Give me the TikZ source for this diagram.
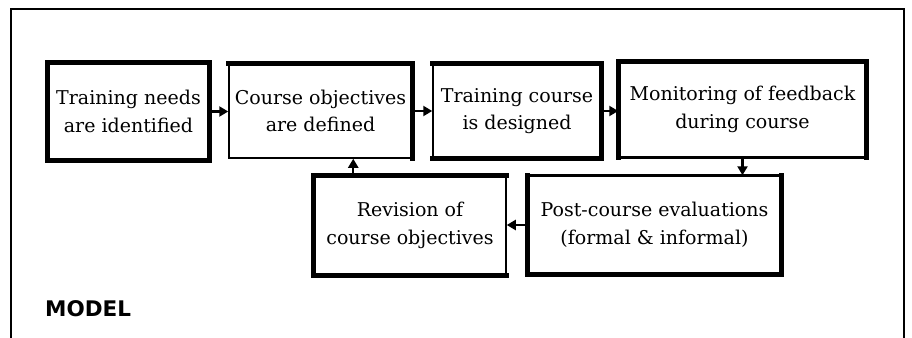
\documentclass[tikz,border=0pt]{standalone}
\usepackage{fontspec}
\setmainfont{DejaVu Serif}
\newfontfamily\modelfont{DejaVu Sans}
\usetikzlibrary{arrows.meta,calc}
\tikzset{
  stagebox/.style={draw, line width=1.5pt, minimum width=#1, inner sep=0pt, align=center,
    font=\fontsize{19}{27.5}\selectfont},
  heavy/.style={line width=5pt, line cap=rect},
  frameline/.style={line width=1.4pt},
  arr/.style={line width=2.4pt, -{Triangle[length=9pt,width=10pt]}}
}
\begin{document}
\begin{tikzpicture}[x=1pt,y=-1pt]
\useasboundingbox (0,0) rectangle (912,337);
% outer frame
\coordinate (fl) at (11,340);
\coordinate (ftl) at (11,9);
\coordinate (ftr) at (904,9);
\coordinate (fr) at (904,340);
\draw[frameline] (fl) -- (ftl) -- (ftr) -- (fr);

% boxes
\node[stagebox=161pt, minimum height=97pt] (b1) at (128.5,111.5) {Training needs\\are identified};
\node[stagebox=183pt, minimum height=94pt] (b2) at (320.5,111) {Course objectives\\are defined};
\node[stagebox=168pt, minimum height=94pt] (b3) at (517,111) {Training course\\is designed};
\node[stagebox=247pt, minimum height=95pt] (b4) at (742.5,109.5) {Monitoring of feedback\\during course};
\node[stagebox=192pt, minimum height=99pt] (b5) at (410,225.5) {Revision of\\course objectives};
\node[stagebox=253pt, minimum height=98pt] (b6) at (654.5,225) {Post-course evaluations\\(formal \& informal)};

% heavy sides
\draw[heavy] (b1.north west) rectangle (b1.south east);
\draw[heavy] (b2.north west) -- (b2.north east) -- (b2.south east);
\draw[heavy] (b3.north west) -- (b3.north east) -- (b3.south east) -- (b3.south west);
\draw[heavy] (b4.south west) -- (b4.north west) -- (b4.north east) -- (b4.south east);
\draw[line width=3pt] (b4.south west) -- (b4.south east);
\draw[heavy] (b5.north east) -- (b5.north west) -- (b5.south west) -- (b5.south east);
\draw[heavy] (b6.north west) -- (b6.south west) -- (b6.south east) -- (b6.north east);
\draw[line width=3pt] (b6.north west) -- (b6.north east);

% connectors
\draw[arr] (b1.east) -- (b1.east -| b2.west);
\draw[arr] (b2.east) -- (b2.east -| b3.west);
\draw[arr] (b3.east) -- (b3.east -| b4.west);
\draw[arr] (b4.south) -- (b4.south |- b6.north);
\draw[arr] (b6.west) -- (b6.west -| b5.east);
\path (b5.north west) ++(40,0) coordinate (u1);
\draw[arr] (u1) -- (u1 |- b2.south);

% label
\node[anchor=base west, inner sep=0pt, font=\modelfont\bfseries\fontsize{21.5}{24}\selectfont] (model) at (45,316) {MODEL};
\end{tikzpicture}
\end{document}
